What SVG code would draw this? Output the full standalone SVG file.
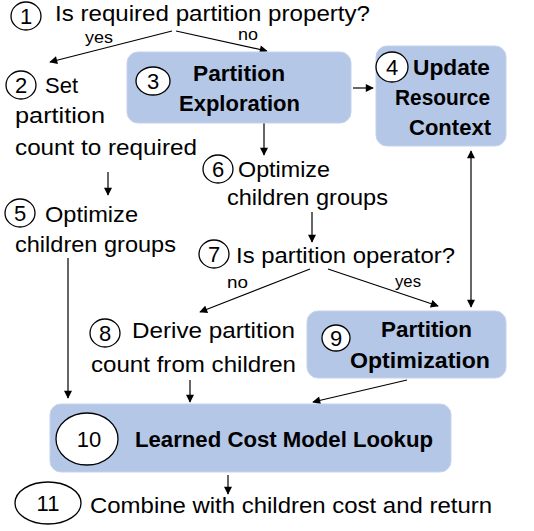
<svg xmlns="http://www.w3.org/2000/svg" width="534" height="531" viewBox="0 0 534 531">
<defs>
<marker id="ah" viewBox="0 0 10 10" refX="9" refY="5" markerWidth="9" markerHeight="8" markerUnits="userSpaceOnUse" orient="auto-start-reverse"><path d="M0,0 L10,5 L0,10 z" fill="#000"/></marker>
<style>
text{font-family:"Liberation Sans",Arial,sans-serif;fill:#000}
.t{font-size:22px}
.b{font-size:22px;font-weight:bold}
.l{font-size:17px}
.n{font-size:22px;text-anchor:middle}
.box{fill:#b4c7e7;stroke:#c5d3ec;stroke-width:1}
.c{fill:#fff;stroke:#000;stroke-width:1.3}
.e{stroke:#000;stroke-width:1.2;fill:none;marker-end:url(#ah)}
</style>
</defs>
<g id="edges">
<path class="e" d="M172,31 L50,62"/>
<path class="e" d="M176,31 L267,51"/>
<path class="e" d="M353,88 L373,88"/>
<path class="e" d="M264,123 L264,155"/>
<path class="e" d="M108,172 L108,195"/>
<path class="e" d="M312,212 L312,242"/>
<path class="e" d="M310,269 L200,312"/>
<path class="e" d="M328,269 L438,306"/>
<path class="e" d="M471,151 L471,307" style="marker-start:url(#ah)"/>
<path class="e" d="M68,258 L68,398"/>
<path class="e" d="M190,380 L190,402"/>
<path class="e" d="M407,380 L313,402"/>
<path class="e" d="M228,475 L228,494"/>
<text class="l" x="85" y="43" textLength="28" lengthAdjust="spacingAndGlyphs">yes</text>
<text class="l" x="238" y="40" textLength="20" lengthAdjust="spacingAndGlyphs">no</text>
<text class="l" x="227" y="288" textLength="21" lengthAdjust="spacingAndGlyphs">no</text>
<text class="l" x="395" y="287" textLength="26" lengthAdjust="spacingAndGlyphs">yes</text>
</g>
<g id="n1">
<ellipse class="c" cx="26" cy="16" rx="15" ry="14"/>
<text class="n" x="26" y="24">1</text>
<text class="t" x="55" y="21" textLength="315" lengthAdjust="spacingAndGlyphs">Is required partition property?</text>
</g>
<g id="n2">
<ellipse class="c" cx="21" cy="85" rx="15" ry="14"/>
<text class="n" x="21" y="93">2</text>
<text class="t" x="45" y="93" textLength="33" lengthAdjust="spacingAndGlyphs">Set</text>
<text class="t" x="15" y="123" textLength="90" lengthAdjust="spacingAndGlyphs">partition</text>
<text class="t" x="15" y="155" textLength="182" lengthAdjust="spacingAndGlyphs">count to required</text>
</g>
<g id="n3">
<rect class="box" x="127" y="52" width="224" height="71" rx="11"/>
<ellipse class="c" cx="153" cy="81" rx="17" ry="14"/>
<text class="n" x="153" y="89">3</text>
<text class="b" x="193" y="81" textLength="92" lengthAdjust="spacingAndGlyphs">Partition</text>
<text class="b" x="179" y="111" textLength="121" lengthAdjust="spacingAndGlyphs">Exploration</text>
</g>
<g id="n4">
<rect class="box" x="376" y="46" width="130" height="100" rx="11"/>
<ellipse class="c" cx="392" cy="67" rx="16" ry="15"/>
<text class="n" x="392" y="75">4</text>
<text class="b" x="413" y="75" textLength="77" lengthAdjust="spacingAndGlyphs">Update</text>
<text class="b" x="395" y="105" textLength="95" lengthAdjust="spacingAndGlyphs">Resource</text>
<text class="b" x="409" y="135" textLength="82" lengthAdjust="spacingAndGlyphs">Context</text>
</g>
<g id="n5">
<ellipse class="c" cx="20" cy="213" rx="15" ry="14"/>
<text class="n" x="20" y="221">5</text>
<text class="t" x="45" y="222" textLength="93" lengthAdjust="spacingAndGlyphs">Optimize</text>
<text class="t" x="15" y="252" textLength="161" lengthAdjust="spacingAndGlyphs">children groups</text>
</g>
<g id="n6">
<ellipse class="c" cx="218" cy="169" rx="15" ry="14"/>
<text class="n" x="218" y="177">6</text>
<text class="t" x="238" y="177" textLength="92" lengthAdjust="spacingAndGlyphs">Optimize</text>
<text class="t" x="227" y="205" textLength="161" lengthAdjust="spacingAndGlyphs">children groups</text>
</g>
<g id="n7">
<ellipse class="c" cx="214" cy="254" rx="15" ry="14"/>
<text class="n" x="214" y="262">7</text>
<text class="t" x="236" y="263" textLength="219" lengthAdjust="spacingAndGlyphs">Is partition operator?</text>
</g>
<g id="n8">
<ellipse class="c" cx="105" cy="333" rx="15" ry="14"/>
<text class="n" x="105" y="341">8</text>
<text class="t" x="132" y="338" textLength="163" lengthAdjust="spacingAndGlyphs">Derive partition</text>
<text class="t" x="91" y="372" textLength="205" lengthAdjust="spacingAndGlyphs">count from children</text>
</g>
<g id="n9">
<rect class="box" x="307" y="311" width="199" height="67" rx="11"/>
<ellipse class="c" cx="336" cy="338" rx="14" ry="13"/>
<text class="n" x="336" y="346">9</text>
<text class="b" x="381" y="337" textLength="91" lengthAdjust="spacingAndGlyphs">Partition</text>
<text class="b" x="350" y="368" textLength="140" lengthAdjust="spacingAndGlyphs">Optimization</text>
</g>
<g id="n10">
<rect class="box" x="50" y="404" width="401" height="68" rx="11"/>
<ellipse class="c" cx="87" cy="439" rx="31" ry="26"/>
<text class="n" x="89" y="447">10</text>
<text class="b" x="135" y="447" textLength="298" lengthAdjust="spacingAndGlyphs">Learned Cost Model Lookup</text>
</g>
<g id="n11">
<ellipse class="c" cx="48" cy="503" rx="33" ry="21"/>
<text class="n" x="48" y="511">11</text>
<text class="t" x="90" y="513" textLength="402" lengthAdjust="spacingAndGlyphs">Combine with children cost and return</text>
</g>
</svg>
